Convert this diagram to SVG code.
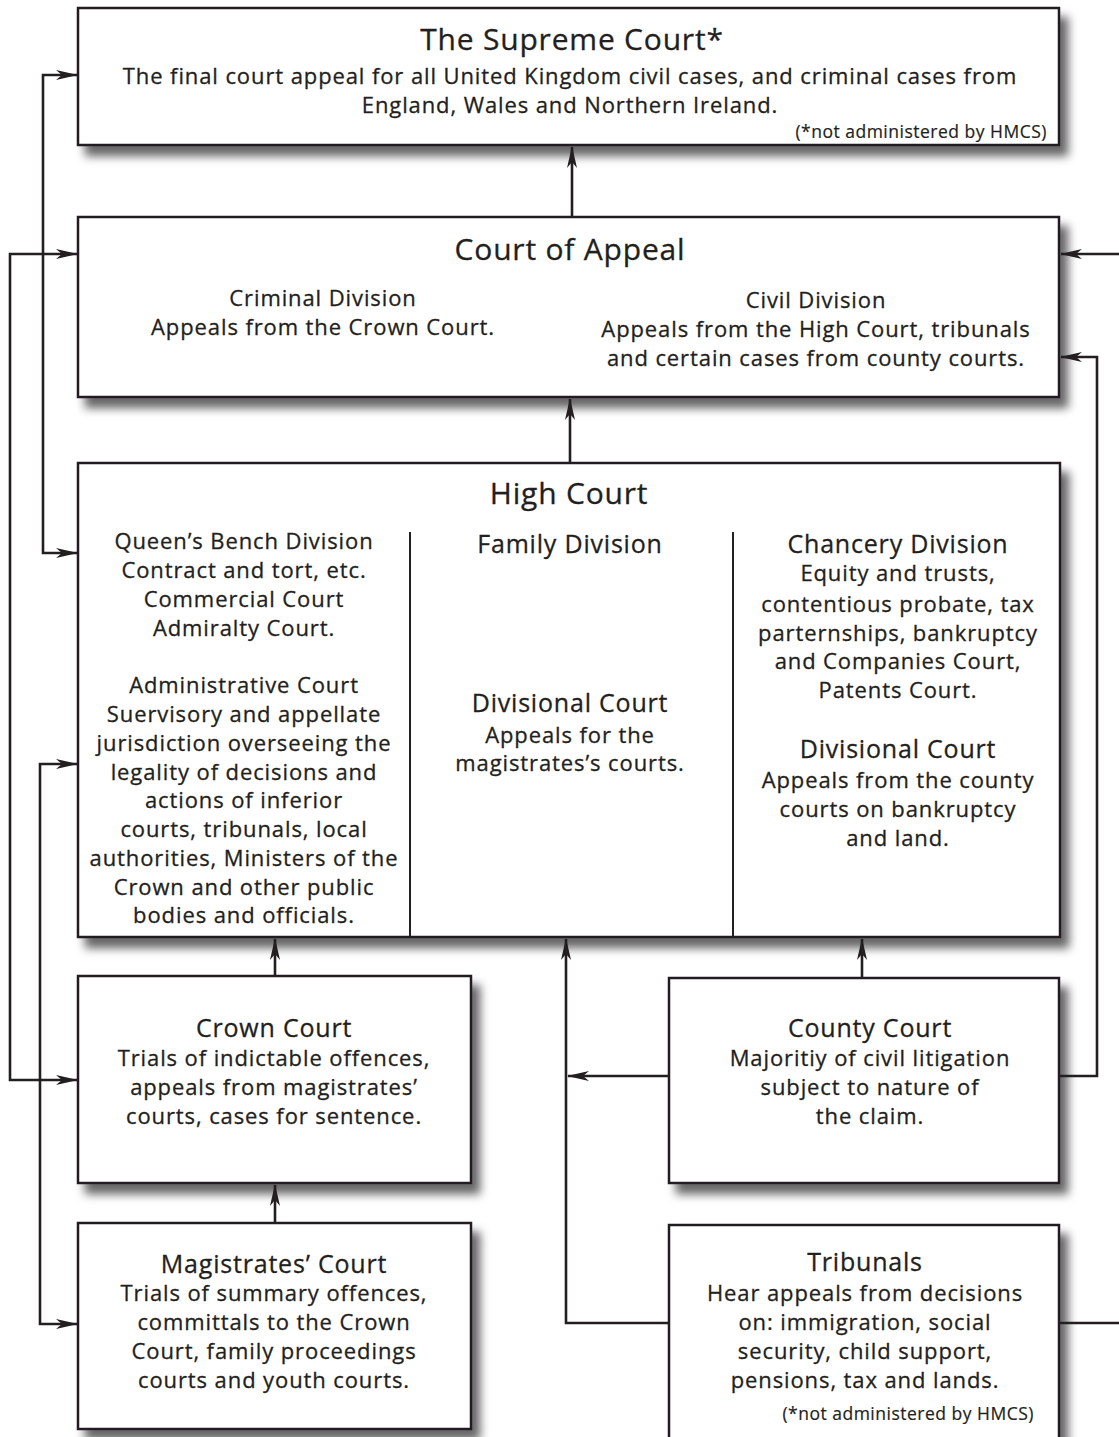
<svg xmlns="http://www.w3.org/2000/svg" width="1119" height="1437" viewBox="0 0 1119 1437">
<style>
  text { font-family: "Open Sans", "Noto Sans", "Liberation Sans", sans-serif; fill: #231f20; stroke: #231f20; stroke-width: 0.3; text-anchor: middle; }
  .t { font-size: 30px; letter-spacing: 0.8px; }
  .s { font-size: 25px; letter-spacing: 0.8px; }
  .b { font-size: 22px; letter-spacing: 0.9px; }
  .n { font-size: 17.5px; letter-spacing: 0.5px; text-anchor: end; stroke-width: 0.2; }
  .box { fill: #ffffff; stroke: #231f20; stroke-width: 2.5; }
  .div { stroke: #231f20; stroke-width: 2; fill: none; }
  .c { fill: none; stroke: #231f20; stroke-width: 2.6; }
</style>
<defs>
  <filter id="sh" x="-10%" y="-10%" width="130%" height="130%">
    <feDropShadow dx="8" dy="10" stdDeviation="5" flood-color="#000" flood-opacity="0.6"/>
  </filter>
  <marker id="ah" viewBox="0 0 22 10" refX="21" refY="5" markerWidth="22" markerHeight="10" markerUnits="userSpaceOnUse" orient="auto-start-reverse">
    <path d="M0,0 L22,5 L0,10 L6,5 Z" fill="#231f20"/>
  </marker>
</defs>
<rect width="1119" height="1437" fill="#ffffff"/>

<g id="supreme-court">
  <rect class="box" x="78" y="8" width="981" height="137" filter="url(#sh)"/>
  <text class="t" x="572" y="50">The Supreme Court*</text>
  <text class="b" x="570" y="84">The final court appeal for all United Kingdom civil cases, and criminal cases from</text>
  <text class="b" x="570" y="113">England, Wales and Northern Ireland.</text>
  <text class="n" x="1047" y="138">(*not administered by HMCS)</text>
</g>

<g id="court-of-appeal">
  <rect class="box" x="78" y="217" width="981" height="180" filter="url(#sh)"/>
  <text class="t" x="570" y="260">Court of Appeal</text>
  <text class="b" x="323" y="306">Criminal Division</text>
  <text class="b" x="323" y="335">Appeals from the Crown Court.</text>
  <text class="b" x="816" y="308">Civil Division</text>
  <text class="b" x="816" y="337">Appeals from the High Court, tribunals</text>
  <text class="b" x="816" y="366">and certain cases from county courts.</text>
</g>

<g id="high-court">
  <rect class="box" x="78" y="463" width="982" height="474" filter="url(#sh)"/>
  <line class="div" x1="410" y1="532" x2="410" y2="937"/>
  <line class="div" x1="733" y1="532" x2="733" y2="937"/>
  <text class="t" x="569" y="504">High Court</text>
  <text class="b" x="244" y="549">Queen’s Bench Division</text>
  <text class="b" x="244" y="578">Contract and tort, etc.</text>
  <text class="b" x="244" y="607">Commercial Court</text>
  <text class="b" x="244" y="636">Admiralty Court.</text>
  <text class="b" x="244" y="693">Administrative Court</text>
  <text class="b" x="244" y="722">Suervisory and appellate</text>
  <text class="b" x="244" y="751">jurisdiction overseeing the</text>
  <text class="b" x="244" y="780">legality of decisions and</text>
  <text class="b" x="244" y="808">actions of inferior</text>
  <text class="b" x="244" y="837">courts, tribunals, local</text>
  <text class="b" x="244" y="866">authorities, Ministers of the</text>
  <text class="b" x="244" y="895">Crown and other public</text>
  <text class="b" x="244" y="923">bodies and officials.</text>
  <text class="s" x="570" y="553">Family Division</text>
  <text class="s" x="570" y="712">Divisional Court</text>
  <text class="b" x="570" y="743">Appeals for the</text>
  <text class="b" x="570" y="771">magistrates’s courts.</text>
  <text class="s" x="898" y="553">Chancery Division</text>
  <text class="b" x="898" y="581">Equity and trusts,</text>
  <text class="b" x="898" y="612">contentious probate, tax</text>
  <text class="b" x="898" y="641">parternships, bankruptcy</text>
  <text class="b" x="898" y="669">and Companies Court,</text>
  <text class="b" x="898" y="698">Patents Court.</text>
  <text class="s" x="898" y="758">Divisional Court</text>
  <text class="b" x="898" y="788">Appeals from the county</text>
  <text class="b" x="898" y="817">courts on bankruptcy</text>
  <text class="b" x="898" y="846">and land.</text>
</g>

<g id="crown-court">
  <rect class="box" x="78" y="976" width="393" height="207" filter="url(#sh)"/>
  <text class="s" x="274" y="1037">Crown Court</text>
  <text class="b" x="274" y="1066">Trials of indictable offences,</text>
  <text class="b" x="274" y="1095">appeals from magistrates’</text>
  <text class="b" x="274" y="1124">courts, cases for sentence.</text>
</g>

<g id="county-court">
  <rect class="box" x="669" y="978" width="390" height="205" filter="url(#sh)"/>
  <text class="s" x="870" y="1037">County Court</text>
  <text class="b" x="870" y="1066">Majoritiy of civil litigation</text>
  <text class="b" x="870" y="1095">subject to nature of</text>
  <text class="b" x="870" y="1124">the claim.</text>
</g>

<g id="magistrates-court">
  <rect class="box" x="78" y="1223" width="393" height="206" filter="url(#sh)"/>
  <text class="s" x="274" y="1273">Magistrates’ Court</text>
  <text class="b" x="274" y="1301">Trials of summary offences,</text>
  <text class="b" x="274" y="1330">committals to the Crown</text>
  <text class="b" x="274" y="1359">Court, family proceedings</text>
  <text class="b" x="274" y="1388">courts and youth courts.</text>
</g>

<g id="tribunals">
  <rect class="box" x="669" y="1225" width="390" height="230" filter="url(#sh)"/>
  <text class="s" x="865" y="1271">Tribunals</text>
  <text class="b" x="865" y="1301">Hear appeals from decisions</text>
  <text class="b" x="865" y="1330">on: immigration, social</text>
  <text class="b" x="865" y="1359">security, child support,</text>
  <text class="b" x="865" y="1388">pensions, tax and lands.</text>
  <text class="n" x="1034" y="1420">(*not administered by HMCS)</text>
</g>

<g id="connectors">
  <path class="c" d="M77,1080 H10 V254 H77" marker-start="url(#ah)" marker-end="url(#ah)"/>
  <path class="c" d="M77,75 H43 V553 H77" marker-start="url(#ah)" marker-end="url(#ah)"/>
  <path class="c" d="M77,764 H40 V1324 H77" marker-start="url(#ah)" marker-end="url(#ah)"/>
  <path class="c" d="M1119,254 H1061" marker-end="url(#ah)"/>
  <path class="c" d="M1059,1076 H1097 V357 H1061" marker-end="url(#ah)"/>
  <path class="c" d="M1059,1323 H1119"/>
  <path class="c" d="M669,1323 H566 V939" marker-end="url(#ah)"/>
  <path class="c" d="M669,1076 H568" marker-end="url(#ah)"/>
  <path class="c" d="M275,976 V939" marker-end="url(#ah)"/>
  <path class="c" d="M275,1223 V1185" marker-end="url(#ah)"/>
  <path class="c" d="M862,978 V939" marker-end="url(#ah)"/>
  <path class="c" d="M570,463 V399" marker-end="url(#ah)"/>
  <path class="c" d="M572,217 V147" marker-end="url(#ah)"/>
</g>
</svg>
